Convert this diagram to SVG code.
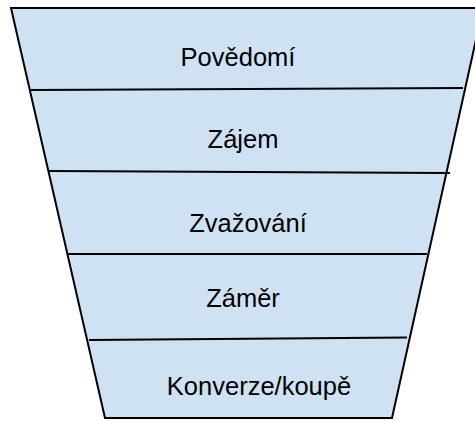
<svg xmlns="http://www.w3.org/2000/svg" width="475" height="421" viewBox="0 0 475 421">
<style>
.funnel{fill:#cfe2f3;stroke:#000;stroke-width:2;stroke-linejoin:miter}
.sep{stroke:#000;stroke-width:2;fill:none}
.lbl{font-family:"Liberation Sans",Arial,sans-serif;font-size:25.5px;fill:#000;text-anchor:middle}
</style>
<rect width="475" height="421" fill="#fff"/>
<g id="funnel">
<polygon class="funnel" points="11,8 483,8 392,418 105,418"/>
</g>
<g id="separators">
<line class="sep" x1="31" y1="90" x2="463" y2="88"/>
<line class="sep" x1="49" y1="171" x2="450" y2="173"/>
<line class="sep" x1="68" y1="254" x2="427" y2="254"/>
<line class="sep" x1="89" y1="340" x2="407" y2="337.5"/>
</g>
<g id="stage1"><text class="lbl" x="238" y="66">Povědomí</text></g>
<g id="stage2"><text class="lbl" x="243" y="148">Zájem</text></g>
<g id="stage3"><text class="lbl" x="248" y="232">Zvažování</text></g>
<g id="stage4"><text class="lbl" x="243" y="307">Záměr</text></g>
<g id="stage5"><text class="lbl" x="259" y="395">Konverze/koupě</text></g>
</svg>
